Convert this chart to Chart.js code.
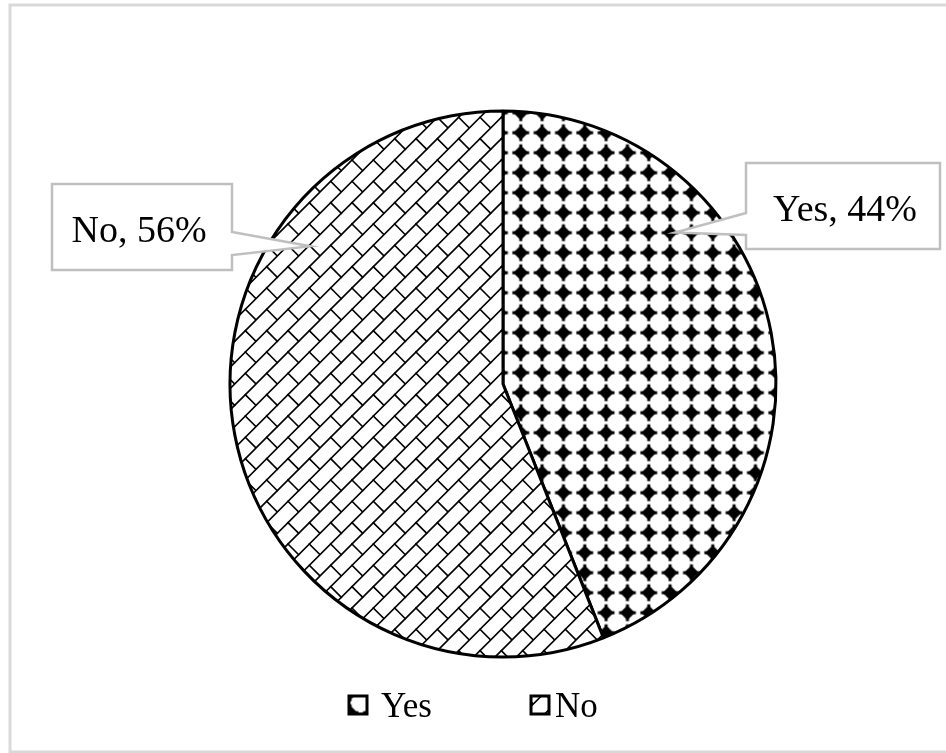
<!DOCTYPE html>
<html>
<head>
<meta charset="utf-8">
<script src="https://cdn.jsdelivr.net/npm/chart.js@4/dist/chart.umd.min.js"></script>
<style>
html,body{margin:0;padding:0;background:#fff;}
#wrap{width:946px;height:753px;position:relative;}
</style>
</head>
<body>
<div id="wrap"><canvas id="c"></canvas></div>
<script>
// ---- data ----
const categories = ['Yes', 'No'];
const percentages = [44, 56];
const labelTexts = categories.map((c, i) => c + ', ' + percentages[i] + '%');

// ---- patterns ----
function diamondPattern(ctx) {
  const c = document.createElement('canvas');
  c.width = 64; c.height = 60;
  const g = c.getContext('2d');
  g.fillStyle = '#fff'; g.fillRect(0, 0, 64, 60);
  g.fillStyle = '#000';
  const sx = 64 / 3, sy = 20;
  for (let i = 0; i < 3; i++) for (let j = 0; j < 3; j++) {
    const cx = sx * (i + 0.5), cy = sy * (j + 0.5);
    const r = 7.4;
    g.beginPath();
    g.moveTo(cx, cy - r); g.lineTo(cx + r, cy); g.lineTo(cx, cy + r); g.lineTo(cx - r, cy);
    g.closePath(); g.fill();
    g.fillRect(cx - 1.5, cy - 8.4, 3, 16.8);
    g.fillRect(cx - 8.4, cy - 1.5, 16.8, 3);
  }
  const p = ctx.createPattern(c, 'repeat');
  p.setTransform(new DOMMatrix([1, 0, 0, 1, 19.4, 2.7]));
  return p;
}
function brickPattern(ctx) {
  const S = 64, T = S / 3;
  const c = document.createElement('canvas');
  c.width = S; c.height = S;
  const g = c.getContext('2d');
  g.fillStyle = '#fff'; g.fillRect(0, 0, S, S);
  g.strokeStyle = '#000'; g.lineWidth = 1.6; g.lineCap = 'square';
  for (let k = 0; k <= 6; k++) {
    g.beginPath();
    g.moveTo(k * T + 10, -10); g.lineTo(-10, k * T + 10);
    g.stroke();
  }
  for (let i = 0; i < 3; i++) for (let j = 0; j < 3; j++) {
    g.beginPath();
    g.moveTo(i * T + T / 2, j * T + T / 2);
    g.lineTo(i * T + T, j * T + T);
    g.stroke();
  }
  return ctx.createPattern(c, 'repeat');
}

const canvas = document.getElementById('c');
const ctx0 = canvas.getContext('2d');
const fills = [diamondPattern(ctx0), brickPattern(ctx0)];

// ---- plugins ----
const framePlugin = {
  id: 'frame',
  beforeDraw(chart) {
    const ctx = chart.ctx;
    ctx.save();
    ctx.fillStyle = '#fff';
    ctx.fillRect(0, 0, chart.width, chart.height);
    ctx.restore();
  },
  afterDraw(chart) {
    const ctx = chart.ctx;
    ctx.save();
    ctx.strokeStyle = '#d9d9d9';
    ctx.lineWidth = 3;
    ctx.strokeRect(10, 5, 945, 747);
    ctx.restore();
  }
};

const calloutPlugin = {
  id: 'callouts',
  afterDatasetsDraw(chart, args, opts) {
    const ctx = chart.ctx;
    const meta = chart.getDatasetMeta(0);
    meta.data.forEach((arc, i) => {
      const b = opts.boxes[i];
      const p = arc.getProps(['x', 'y', 'startAngle', 'endAngle', 'outerRadius'], true);
      const a = p.startAngle + (p.endAngle - p.startAngle) * b.angleFrac;
      const tx = p.x + Math.cos(a) * p.outerRadius * b.radiusFrac;
      const ty = p.y + Math.sin(a) * p.outerRadius * b.radiusFrac;
      ctx.save();
      ctx.beginPath();
      if (b.side === 'left') {
        ctx.moveTo(b.x, b.y);
        ctx.lineTo(b.x + b.w, b.y);
        ctx.lineTo(b.x + b.w, b.y + b.h);
        ctx.lineTo(b.x, b.y + b.h);
        ctx.lineTo(b.x, b.notch[1]);
        ctx.lineTo(tx, ty);
        ctx.lineTo(b.x, b.notch[0]);
      } else {
        ctx.moveTo(b.x, b.y);
        ctx.lineTo(b.x + b.w, b.y);
        ctx.lineTo(b.x + b.w, b.notch[0]);
        ctx.lineTo(tx, ty);
        ctx.lineTo(b.x + b.w, b.notch[1]);
        ctx.lineTo(b.x + b.w, b.y + b.h);
        ctx.lineTo(b.x, b.y + b.h);
      }
      ctx.closePath();
      ctx.fillStyle = '#fff';
      ctx.fill();
      ctx.lineWidth = 2.5;
      ctx.strokeStyle = '#bfbfbf';
      ctx.lineJoin = 'miter';
      ctx.stroke();
      ctx.fillStyle = '#000';
      ctx.font = opts.font;
      ctx.textAlign = 'center';
      ctx.textBaseline = 'alphabetic';
      ctx.fillText(labelTexts[i], b.x + b.w / 2 + b.textDx, b.y + b.h / 2 + 15);
      ctx.restore();
    });
  }
};

const legendPlugin = {
  id: 'customLegend',
  afterDraw(chart, args, opts) {
    const ctx = chart.ctx;
    const bg = chart.data.datasets[0].backgroundColor;
    ctx.save();
    categories.forEach((cat, i) => {
      const it = opts.items[i];
      ctx.fillStyle = bg[i];
      ctx.fillRect(it.boxX, opts.boxY, opts.boxSize, opts.boxSize);
      ctx.lineWidth = 3;
      ctx.strokeStyle = '#000';
      ctx.strokeRect(it.boxX, opts.boxY, opts.boxSize, opts.boxSize);
      ctx.fillStyle = '#000';
      ctx.font = opts.font;
      ctx.textAlign = 'left';
      ctx.textBaseline = 'alphabetic';
      ctx.fillText(cat, it.textX, opts.baseline);
    });
    ctx.restore();
  }
};

new Chart(canvas, {
  type: 'pie',
  data: {
    labels: categories,
    datasets: [{
      data: percentages,
      backgroundColor: fills,
      borderColor: '#000',
      borderWidth: 3,
      radius: 273
    }]
  },
  options: {
    responsive: true,
    maintainAspectRatio: false,
    animation: false,
    events: [],
    layout: { padding: { left: 60, right: 0, top: 15, bottom: 0 } },
    plugins: {
      legend: { display: false },
      tooltip: { enabled: false },
      callouts: {
        font: '38px "Liberation Serif", "Times New Roman", serif',
        boxes: [
          { x: 746, y: 163, w: 194, h: 86, side: 'left', notch: [213, 235], angleFrac: 0.307, radiusFrac: 0.84, textDx: 2 },
          { x: 52, y: 184, w: 180, h: 86, side: 'right', notch: [232, 255], angleFrac: 0.730, radiusFrac: 0.868, textDx: -3 }
        ]
      },
      customLegend: {
        font: '35px "Liberation Serif", "Times New Roman", serif',
        boxY: 696,
        boxSize: 18,
        baseline: 717,
        items: [ { boxX: 349, textX: 381 }, { boxX: 531, textX: 555 } ]
      }
    }
  },
  plugins: [framePlugin, calloutPlugin, legendPlugin]
});
</script>
</body>
</html>
